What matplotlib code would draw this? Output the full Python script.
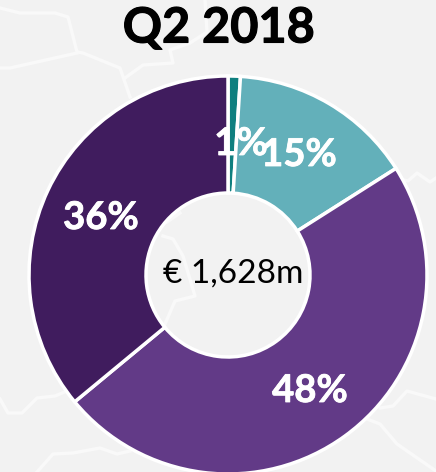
import matplotlib
matplotlib.use("Agg")
import matplotlib.pyplot as plt
import matplotlib.patheffects as pe

plt.rcParams["font.family"] = ["Lato", "DejaVu Sans"]

title = "Q2 2018"
center_label = "€ 1,628m"
shares = [1, 15, 48, 36]
colors = ["#0F7F7F", "#63B0BA", "#623A87", "#401C5E"]
labels = ["1%", "15%", "48%", "36%"]
label_pos = [(241, 144), (299, 155), (310, 391), (101, 218)]

# faint map borders behind the chart, in image pixels
borders = [
    [(0, 8), (20, 13), (55, 13), (68, 17), (77, 52), (83, 53), (120, 68), (130, 97)],
    [(0, 68), (10, 68), (77, 53)],
    [(125, 78), (143, 65), (173, 63), (170, 50), (190, 43), (207, 32), (205, 0)],
    [(397, 178), (408, 181), (417, 173), (430, 182), (436, 178)],
    [(0, 399), (8, 413), (22, 413), (37, 398), (55, 396), (67, 391)],
    [(37, 472), (53, 454), (73, 453), (100, 448), (117, 454), (130, 451)],
    [(380, 408), (393, 406), (407, 391), (436, 399)],
    [(367, 419), (380, 424), (397, 444), (436, 471)],
    [(163, 236), (173, 239), (183, 256), (195, 296), (175, 301), (165, 324)],
    [(167, 222), (180, 213)],
]

W, H = 436, 472

fig = plt.figure(figsize=(W / 100, H / 100), dpi=100, facecolor="#F2F2F2")
ax = fig.add_axes([0, 0, 1, 1])

for line in borders:
    xs = [p[0] for p in line]
    ys = [H - p[1] for p in line]
    ax.plot(xs, ys, color="#F9F9F9", lw=2.4, zorder=1, solid_joinstyle="round")

ax.pie(
    shares,
    colors=colors,
    startangle=90,
    counterclock=False,
    center=(228, H - 275),
    radius=199,
    frame=True,
    wedgeprops={"width": 117, "edgecolor": "white", "linewidth": 2.5, "zorder": 2},
)

ax.set_xlim(0, W)
ax.set_ylim(0, H)
ax.axis("off")

for text, (x, y) in zip(labels, label_pos):
    t = ax.text(x, H - y, text, color="white", fontsize=27.5, fontweight="bold",
                ha="center", va="center", zorder=3)
    t.set_path_effects([pe.withStroke(linewidth=0.6, foreground="white")])

t = ax.text(219, H - 28, title, color="black", fontsize=35, fontweight="bold",
            ha="center", va="center", zorder=3)
t.set_path_effects([pe.withStroke(linewidth=0.8, foreground="black")])
ax.text(233, H - 274, center_label, color="black", fontsize=24,
        ha="center", va="center", zorder=3)

fig.savefig("out.png", dpi=100, facecolor=fig.get_facecolor())
